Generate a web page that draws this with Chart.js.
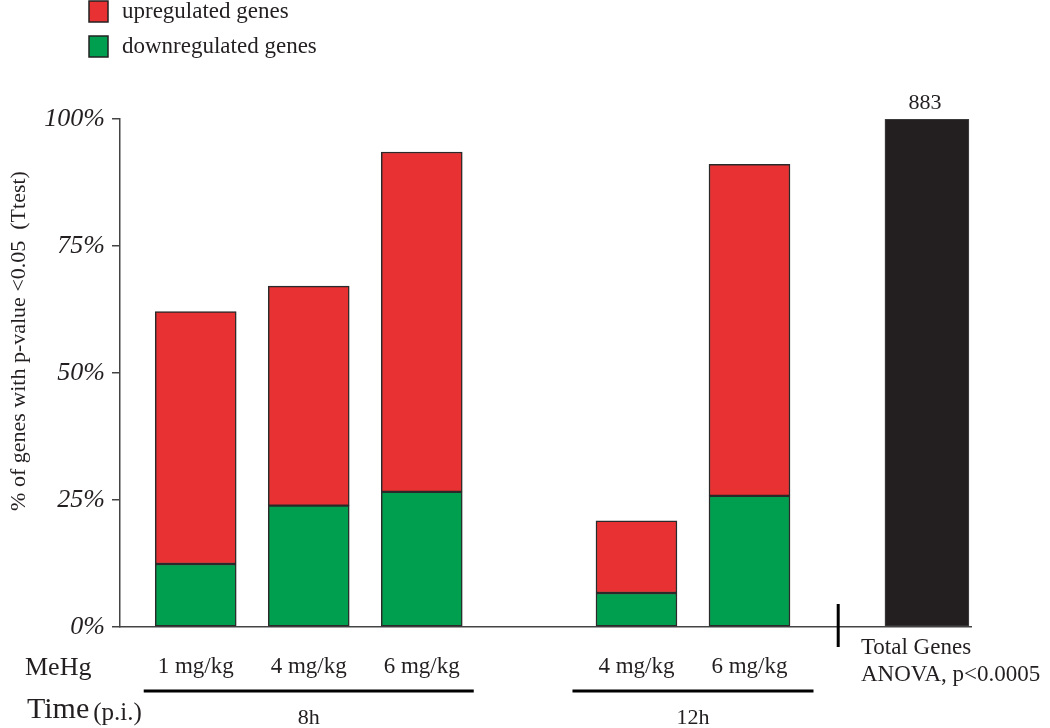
<!DOCTYPE html>
<html>
<head>
<meta charset="utf-8">
<script src="https://cdn.jsdelivr.net/npm/chart.js@4/dist/chart.umd.min.js"></script>
<style>
  html, body { margin: 0; padding: 0; background: #fff; }
  #wrap { width: 1050px; height: 728px; }
</style>
</head>
<body>
<div id="wrap"><canvas id="genesChart" width="1050" height="728"></canvas></div>
<script>
// Data (% of genes, Ttest p<0.05)
const doses = ['1 mg/kg', '4 mg/kg', '6 mg/kg', '4 mg/kg', '6 mg/kg'];
const times = ['8h', '8h', '8h', '12h', '12h'];
const slots = [1, 2, 3, 4.9, 5.9];            // where each dose sits along the x axis
const downPct = [12.4, 23.9, 26.6, 6.7, 25.8];
const upPct = [49.7, 43.2, 66.9, 14.2, 65.3];
const totalSlot = 7.47;
const totalPct = 100;
const totalGenes = 883;
const yTicks = [0, 25, 50, 75, 100];

const RED = '#E83132';
const GREEN = '#009E4F';
const BLACK = '#231F20';
const INK = '#231F20';
const SERIF = '"Liberation Serif", "DejaVu Serif", serif';

// extra labels: legend, dose labels, time groups, total genes note
const extras = {
  id: 'extras',
  afterDraw(chart) {
    const { ctx, scales: { x, y } } = chart;
    ctx.save();
    ctx.fillStyle = INK;
    ctx.textBaseline = 'middle';

    // legend (stacked vertically, top left)
    const legendItems = [['upregulated genes', RED], ['downregulated genes', GREEN]];
    legendItems.forEach(([label, color], i) => {
      const ly = 1 + i * 35;
      ctx.fillStyle = color;
      ctx.fillRect(89, ly, 19, 21);
      ctx.strokeStyle = '#222';
      ctx.lineWidth = 1.5;
      ctx.strokeRect(89, ly, 19, 21);
      ctx.fillStyle = INK;
      ctx.font = '23px ' + SERIF;
      ctx.textAlign = 'left';
      ctx.fillText(label, 122, ly + 11);
    });

    // y axis title
    ctx.save();
    ctx.translate(19, 341);
    ctx.rotate(-Math.PI / 2);
    ctx.textAlign = 'center';
    ctx.font = '22px ' + SERIF;
    ctx.fillText('% of genes with p-value <0.05  (Ttest)', 0, 0);
    ctx.restore();

    // dose labels
    ctx.font = '23px ' + SERIF;
    ctx.textAlign = 'center';
    doses.forEach((d, i) => ctx.fillText(d, x.getPixelForValue(slots[i]), 667));
    ctx.textAlign = 'left';
    ctx.font = '26px ' + SERIF;
    ctx.fillText('MeHg', 25, 668);

    // time groups with underline
    const groups = [...new Set(times)];
    const pads = [12, 24];
    groups.forEach((t, g) => {
      const px = slots.filter((s, i) => times[i] === t).map(s => x.getPixelForValue(s));
      const x0 = Math.min(...px) - 40 - pads[g];
      const x1 = Math.max(...px) + 40 + pads[g];
      ctx.fillStyle = '#000';
      ctx.fillRect(x0, 689.5, x1 - x0, 3);
      ctx.fillStyle = INK;
      ctx.font = '22px ' + SERIF;
      ctx.textAlign = 'center';
      ctx.fillText(t, (x0 + x1) / 2, 718);
    });
    ctx.textAlign = 'left';
    ctx.font = '30px ' + SERIF;
    ctx.fillText('Time', 27, 710);
    const tw = ctx.measureText('Time').width;
    ctx.font = '25px ' + SERIF;
    ctx.fillText('(p.i.)', 27 + tw + 4, 713);

    // separator before the total bar
    const sepX = x.getPixelForValue((slots[slots.length - 1] + totalSlot) / 2);
    ctx.fillStyle = '#000';
    ctx.fillRect(sepX - 1.5, 604, 3, 43);

    // total genes notes
    const tx = x.getPixelForValue(totalSlot);
    ctx.fillStyle = INK;
    ctx.font = '23px ' + SERIF;
    ctx.textAlign = 'left';
    ctx.fillText('Total Genes', tx - 66, 648);
    ctx.fillText('ANOVA, p<0.0005', tx - 66, 675);
    ctx.textAlign = 'center';
    ctx.font = '22px ' + SERIF;
    ctx.fillText(String(totalGenes), tx - 2, y.getPixelForValue(totalPct) - 16);

    ctx.restore();
  }
};

const ctx = document.getElementById('genesChart').getContext('2d');
const genesChart = new Chart(ctx, {
  type: 'bar',
  data: {
    datasets: [{
      label: 'downregulated genes',
      data: slots.map((s, i) => ({ x: s, y: downPct[i] })),
      backgroundColor: GREEN,
      borderColor: '#2a2a2a',
      borderWidth: 1.5,
      borderSkipped: false,
      barThickness: 81
    }, {
      label: 'upregulated genes',
      data: slots.map((s, i) => ({ x: s, y: upPct[i] })),
      backgroundColor: RED,
      borderColor: '#2a2a2a',
      borderWidth: 1.5,
      borderSkipped: false,
      barThickness: 81
    }, {
      label: 'Total Genes',
      data: [{ x: totalSlot, y: totalPct }],
      backgroundColor: BLACK,
      borderColor: '#444',
      borderWidth: 1,
      borderSkipped: false,
      barThickness: 84
    }]
  },
  options: {
    responsive: false,
    animation: false,
    layout: { padding: { top: 119, right: 79, bottom: 93, left: 0 } },
    plugins: { legend: { display: false }, tooltip: { enabled: false } },
    scales: {
      x: {
        type: 'linear',
        stacked: true,
        offset: false,
        min: 0.33,
        max: 7.86,
        grid: { display: false, offset: false },
        ticks: { display: false },
        border: { display: true, color: '#444', width: 1.5 }
      },
      y: {
        stacked: true,
        min: 0,
        max: 100,
        afterBuildTicks: s => { s.ticks = yTicks.map(v => ({ value: v })); },
        afterFit: s => { s.width = 120; },
        grid: { drawOnChartArea: false, drawTicks: true, tickLength: 8, color: '#444', lineWidth: 1.5 },
        border: { display: true, color: '#444', width: 1.5 },
        ticks: {
          padding: 7,
          color: INK,
          font: { family: SERIF, size: 26, style: 'italic' },
          callback: v => v + '%'
        }
      }
    }
  },
  plugins: [extras]
});
</script>
</body>
</html>
